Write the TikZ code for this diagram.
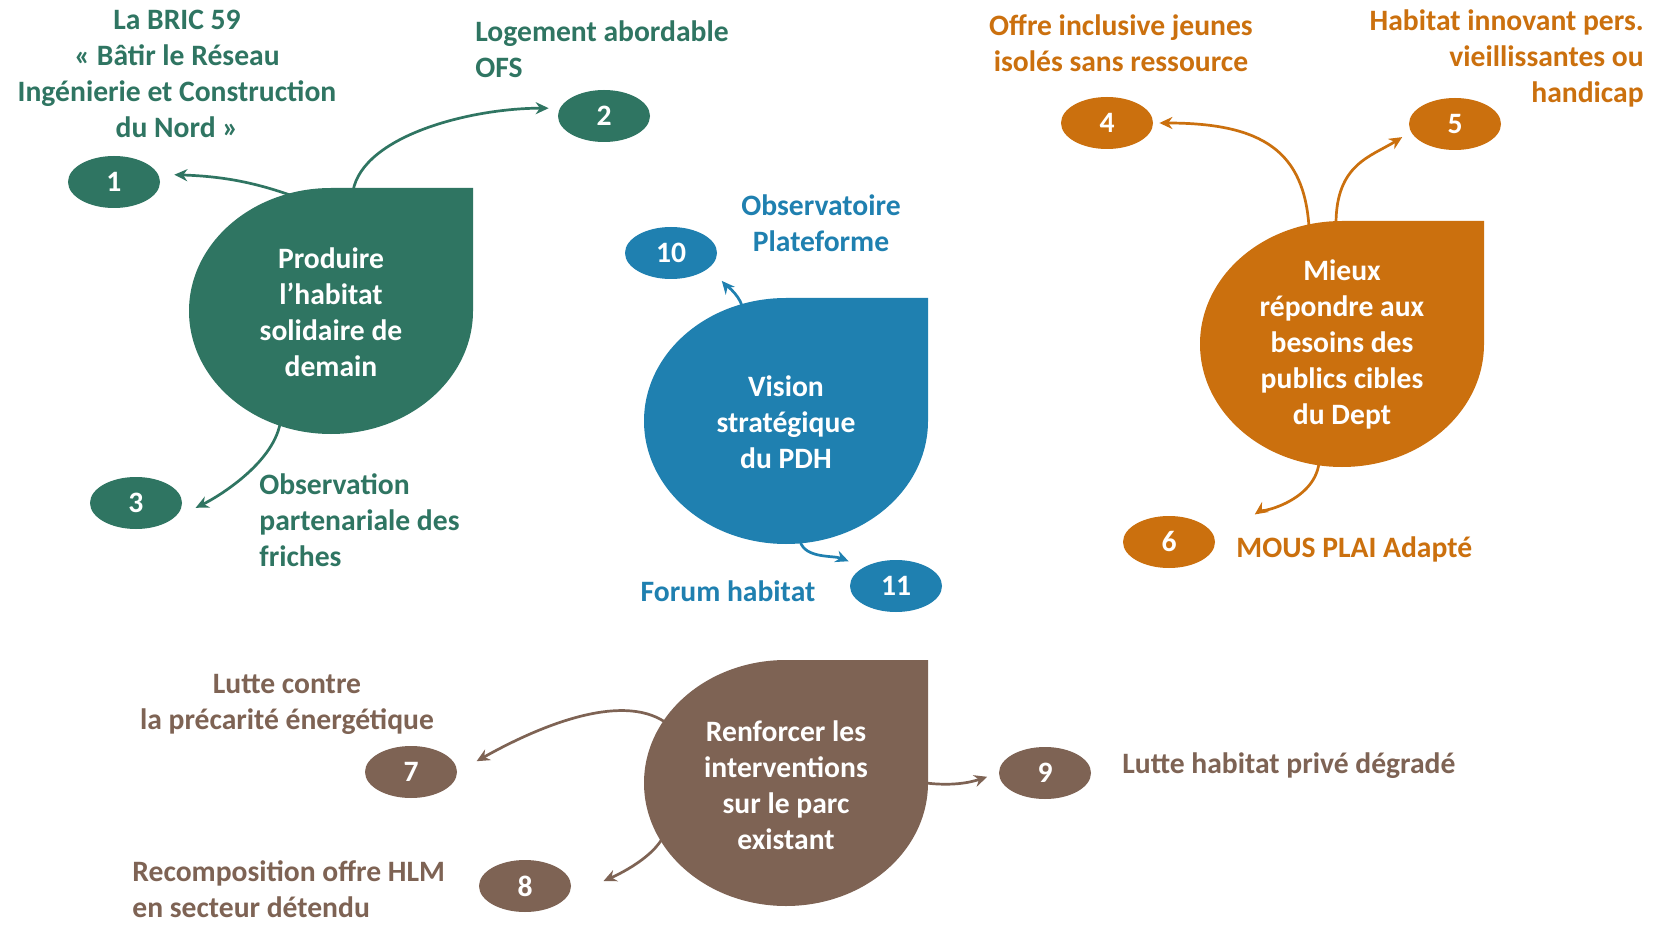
\documentclass[tikz,border=0pt]{standalone}
\usepackage{fontspec}
\setmainfont{Carlito}
\usetikzlibrary{shapes.geometric, arrows.meta, positioning}

\definecolor{pdhgreen}{HTML}{2F7562}
\definecolor{pdhblue}{HTML}{1F80B0}
\definecolor{pdhorange}{HTML}{CB700E}
\definecolor{pdhbrown}{HTML}{7E6354}

\newcommand{\pdhfont}{\fontsize{14.8pt}{18pt}\selectfont\bfseries}

\tikzset{
    num/.style={ellipse, minimum width=46pt, minimum height=26pt, inner sep=0pt, text=white, font=\pdhfont},
    lbl/.style={font=\pdhfont, align=center, inner sep=0pt},
    leaftxt/.style={font=\pdhfont, align=center, inner sep=0pt, text=white},
    link/.style={line width=1.35pt, -{Stealth[length=6.5pt, width=6pt]}},
}

\begin{document}
\begin{tikzpicture}[x=0.5pt, y=-0.5pt]
    % Frame of the page
    \useasboundingbox (0,0) rectangle (1655,925);
    \fill[white] (0,0) rectangle (1655,925);

    % Draw the four leaves (sharp corner top right)
    \fill[pdhgreen] (473,188) -- (473,311) arc[start angle=0, end angle=-270, x radius=71pt, y radius=61.5pt] -- cycle;
    \fill[pdhblue] (928,298) -- (928,421) arc[start angle=0, end angle=-270, x radius=71pt, y radius=61.5pt] -- cycle;
    \fill[pdhorange] (1484,221) -- (1484,344) arc[start angle=0, end angle=-270, x radius=71pt, y radius=61.5pt] -- cycle;
    \fill[pdhbrown] (928,660) -- (928,783) arc[start angle=0, end angle=-270, x radius=71pt, y radius=61.5pt] -- cycle;

    % Leaf texts
    \node[leaftxt] (prod) at (331,312) {Produire\\l’habitat\\solidaire de\\demain};
    \node[leaftxt] (vis) at (786,422) {Vision\\stratégique\\du PDH};
    \node[leaftxt] (pub) at (1342,344) {Mieux\\répondre aux\\besoins des\\publics cibles\\du Dept};
    \node[leaftxt] (parc) at (786,785) {Renforcer les\\interventions\\sur le parc\\existant};

    % Start points on the leaves
    \coordinate (prod-1) at (290,195);
    \coordinate (prod-2) at (353,191);
    \coordinate (prod-3) at (280,424);
    \coordinate (vis-10) at (742,306);
    \coordinate (vis-11) at (800,541);
    \coordinate (pub-4) at (1309,227);
    \coordinate (pub-5) at (1336,224);
    \coordinate (pub-6) at (1319,463);
    \coordinate (parc-7) at (665,722);
    \coordinate (parc-8) at (662,839);
    \coordinate (parc-9) at (926,783);

    % Numbered ellipses
    \node[num, fill=pdhgreen] (n1) at (114,182) {1};
    \node[num, fill=pdhgreen] (n2) at (604,116) {2};
    \node[num, fill=pdhgreen] (n3) at (136,503) {3};
    \node[num, fill=pdhorange] (n4) at (1107,123) {4};
    \node[num, fill=pdhorange] (n5) at (1455,124) {5};
    \node[num, fill=pdhorange] (n6) at (1169,542) {6};
    \node[num, fill=pdhbrown] (n7) at (411,772) {7};
    \node[num, fill=pdhbrown] (n8) at (525,886) {8};
    \node[num, fill=pdhbrown] (n9) at (1045,773) {9};
    \node[num, fill=pdhblue] (n10) at (671,253) {10};
    \node[num, fill=pdhblue] (n11) at (896,586) {11};

    % Labels
    \node[lbl, text=pdhgreen] (t1) at (177,74) {La BRIC 59\\« Bâtir le Réseau\\Ingénierie et Construction\\du Nord »};
    \node[lbl, text=pdhgreen, anchor=west, align=left] (t2) at (475,49) {Logement abordable\\OFS};
    \node[lbl, text=pdhgreen, anchor=west, align=left] (t3) at (259,520) {Observation\\partenariale des\\friches};
    \node[lbl, text=pdhorange] (t4) at (1121,43) {Offre inclusive jeunes\\isolés sans ressource};
    \node[lbl, text=pdhorange, anchor=east, align=right] (t5) at (1644,58) {Habitat innovant pers.\\vieillissantes ou\\handicap};
    \node[lbl, text=pdhorange, anchor=west] (t6) at (1236,549) {MOUS PLAI Adapté};
    \node[lbl, text=pdhbrown] (t7) at (287,704) {Lutte contre\\la précarité énergétique};
    \node[lbl, text=pdhbrown, anchor=west, align=left] (t8) at (132,889) {Recomposition offre HLM\\en secteur détendu};
    \node[lbl, text=pdhbrown, anchor=west] (t9) at (1122,766) {Lutte habitat privé dégradé};
    \node[lbl, text=pdhblue] (t10) at (821,223) {Observatoire\\Plateforme};
    \node[lbl, text=pdhblue] (t11) at (728,591) {Forum habitat};

    % Arrows from the leaves to the ellipses
    \draw[link, pdhgreen, shorten >=8pt] (prod-1) .. controls +(-40,-14) and +(60,2) .. (n1.10);
    \draw[link, pdhgreen, shorten >=5.5pt] (prod-2) .. controls +(10,-55) and +(-90,0) .. (n2.170);
    \draw[link, pdhgreen, shorten >=12.5pt] (prod-3) .. controls +(-8,40) and +(45,-22) .. (n3.-23);
    \draw[link, pdhblue, shorten >=9pt] (vis-10) .. controls +(-3,-12) and +(12,14) .. (n10.-20);
    \draw[link, pdhblue, shorten >=8pt] (vis-11) .. controls +(5,18) and +(-30,-12) .. (n11.150);
    \draw[link, pdhorange, shorten >=3pt] (pub-4) .. controls +(-5,-75) and +(110,0) .. (n4.east);
    \draw[link, pdhorange, shorten >=5pt] (pub-5) .. controls +(0,-60) and +(-40,25) .. (n5.190);
    \draw[link, pdhorange, shorten >=24pt] (pub-6) .. controls +(-5,40) and +(40,-28) .. (n6.east);
    \draw[link, pdhbrown, shorten >=11pt] (parc-7) .. controls +(-45,-30) and +(80,-45) .. (n7.east);
    \draw[link, pdhbrown, shorten >=20pt] (parc-8) .. controls +(-15,25) and +(36,-16) .. (n8.-15);
    \draw[link, pdhbrown, shorten >=6pt] (parc-9) .. controls +(25,3) and +(-30,10) .. (n9.west);
\end{tikzpicture}
\end{document}
